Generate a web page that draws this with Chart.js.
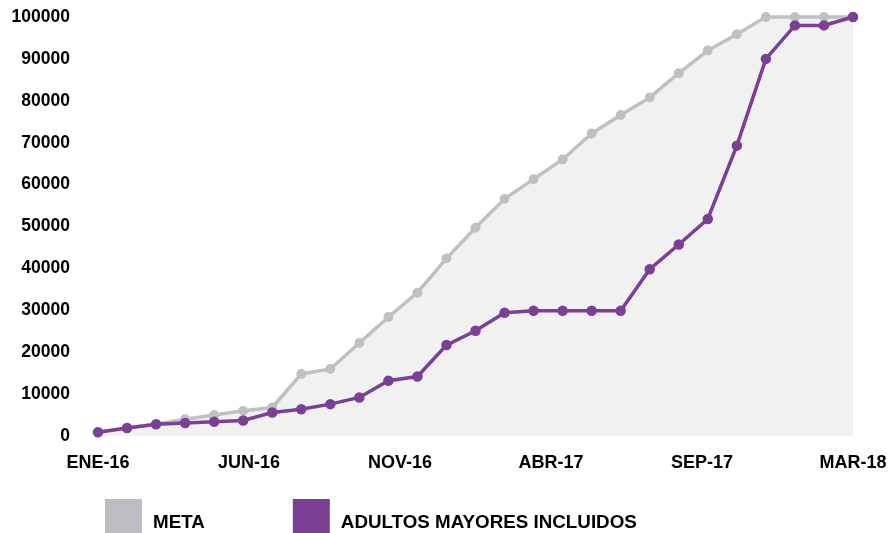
<!DOCTYPE html>
<html>
<head>
<meta charset="utf-8">
<script src="https://cdn.jsdelivr.net/npm/chart.js@4.4.1/dist/chart.umd.min.js"></script>
<style>
html,body{margin:0;padding:0;background:#fff;}
#wrap{width:896px;height:533px;position:relative;}
</style>
</head>
<body>
<div id="wrap"><canvas id="c" width="896" height="533"></canvas></div>
<script>
const months = ['ENE-16','FEB-16','MAR-16','ABR-16','MAY-16','JUN-16','JUL-16','AGO-16','SEP-16','OCT-16','NOV-16','DIC-16',
  'ENE-17','FEB-17','MAR-17','ABR-17','MAY-17','JUN-17','JUL-17','AGO-17','SEP-17','OCT-17','NOV-17','DIC-17',
  'ENE-18','FEB-18','MAR-18'];
const metaValues = [900, 1900, 2800, 4000, 5000, 6000, 6800, 14800, 16000, 22200, 28400, 34200, 42400, 49700,
  56600, 61300, 66000, 72200, 76600, 80800, 86600, 92000, 95900, 100000, 100000, 100000, 100000];
const adultosValues = [900, 1900, 2800, 3100, 3400, 3700, 5600, 6400, 7600, 9200, 13200, 14200, 21700, 25100,
  29400, 29900, 29900, 29900, 29900, 39800, 45700, 51800, 69300, 90000, 98000, 98000, 100000];
const xTickLabels = ['ENE-16','JUN-16','NOV-16','ABR-17','SEP-17','MAR-18'];
const seriesNames = ['META','ADULTOS MAYORES INCLUIDOS'];

const GRAY = '#bfc0c3';
const GRAY_BOX = '#bcbdc0';
const PURPLE = '#7b3f96';
const FONT = '"Liberation Sans", Arial, Helvetica, sans-serif';

const toPoints = vals => vals.map((v, i) => ({x: i, y: v}));
const lastIdx = months.length - 1;

const legendPlugin = {
  id: 'customLegend',
  afterDraw(chart) {
    const ctx = chart.ctx;
    ctx.save();
    ctx.font = 'bold 18.8px ' + FONT;
    ctx.textBaseline = 'alphabetic';
    ctx.textAlign = 'left';
    let x = 105;
    const top = 499;
    const box = 37;
    chart.data.datasets.forEach(ds => {
      ctx.fillStyle = ds.legendColor;
      ctx.fillRect(x, top, box, box);
      const tx = x + box + 11;
      ctx.fillStyle = '#000';
      ctx.fillText(ds.label, tx, 527.5);
      x = tx + ctx.measureText(ds.label).width + 88;
    });
    ctx.restore();
  }
};

new Chart(document.getElementById('c'), {
  type: 'line',
  data: {
    datasets: [
      {
        label: seriesNames[0],
        data: toPoints(metaValues),
        borderColor: GRAY,
        backgroundColor: '#f1f1f1',
        legendColor: GRAY_BOX,
        pointBackgroundColor: GRAY,
        pointBorderColor: GRAY,
        borderWidth: 3.5,
        pointRadius: 3.2,
        fill: 'origin',
        tension: 0,
        clip: false,
        order: 2
      },
      {
        label: seriesNames[1],
        data: toPoints(adultosValues),
        borderColor: PURPLE,
        backgroundColor: PURPLE,
        legendColor: PURPLE,
        pointBackgroundColor: PURPLE,
        pointBorderColor: PURPLE,
        borderWidth: 3.5,
        pointRadius: 3.5,
        fill: false,
        tension: 0,
        clip: false,
        order: 1
      }
    ]
  },
  options: {
    responsive: false,
    animation: false,
    devicePixelRatio: 1,
    layout: {padding: {top: 17, left: 12, right: 43, bottom: 0}},
    plugins: {legend: {display: false}, tooltip: {enabled: false}},
    scales: {
      x: {
        type: 'linear',
        min: 0,
        max: lastIdx,
        grid: {display: false, drawTicks: false},
        border: {display: false},
        afterBuildTicks: s => { s.ticks = xTickLabels.map((_, i) => ({value: i * lastIdx / (xTickLabels.length - 1)})); },
        afterFit: s => { s.height = 97; s.paddingLeft = 0; s.paddingRight = 0; },
        ticks: {
          autoSkip: false,
          maxRotation: 0,
          padding: 16,
          color: '#000',
          font: {family: FONT, size: 18, weight: 'bold'},
          callback: (v, i) => xTickLabels[i]
        }
      },
      y: {
        min: 0,
        max: 100000,
        grid: {display: false, drawTicks: false},
        border: {display: false},
        afterFit: s => { s.width = 86; s.paddingTop = 0; s.paddingBottom = 0; },
        ticks: {
          stepSize: 10000,
          padding: 28,
          color: '#000',
          font: {family: FONT, size: 17.5, weight: 'bold'},
          callback: v => String(v)
        }
      }
    }
  },
  plugins: [legendPlugin]
});
</script>
</body>
</html>
